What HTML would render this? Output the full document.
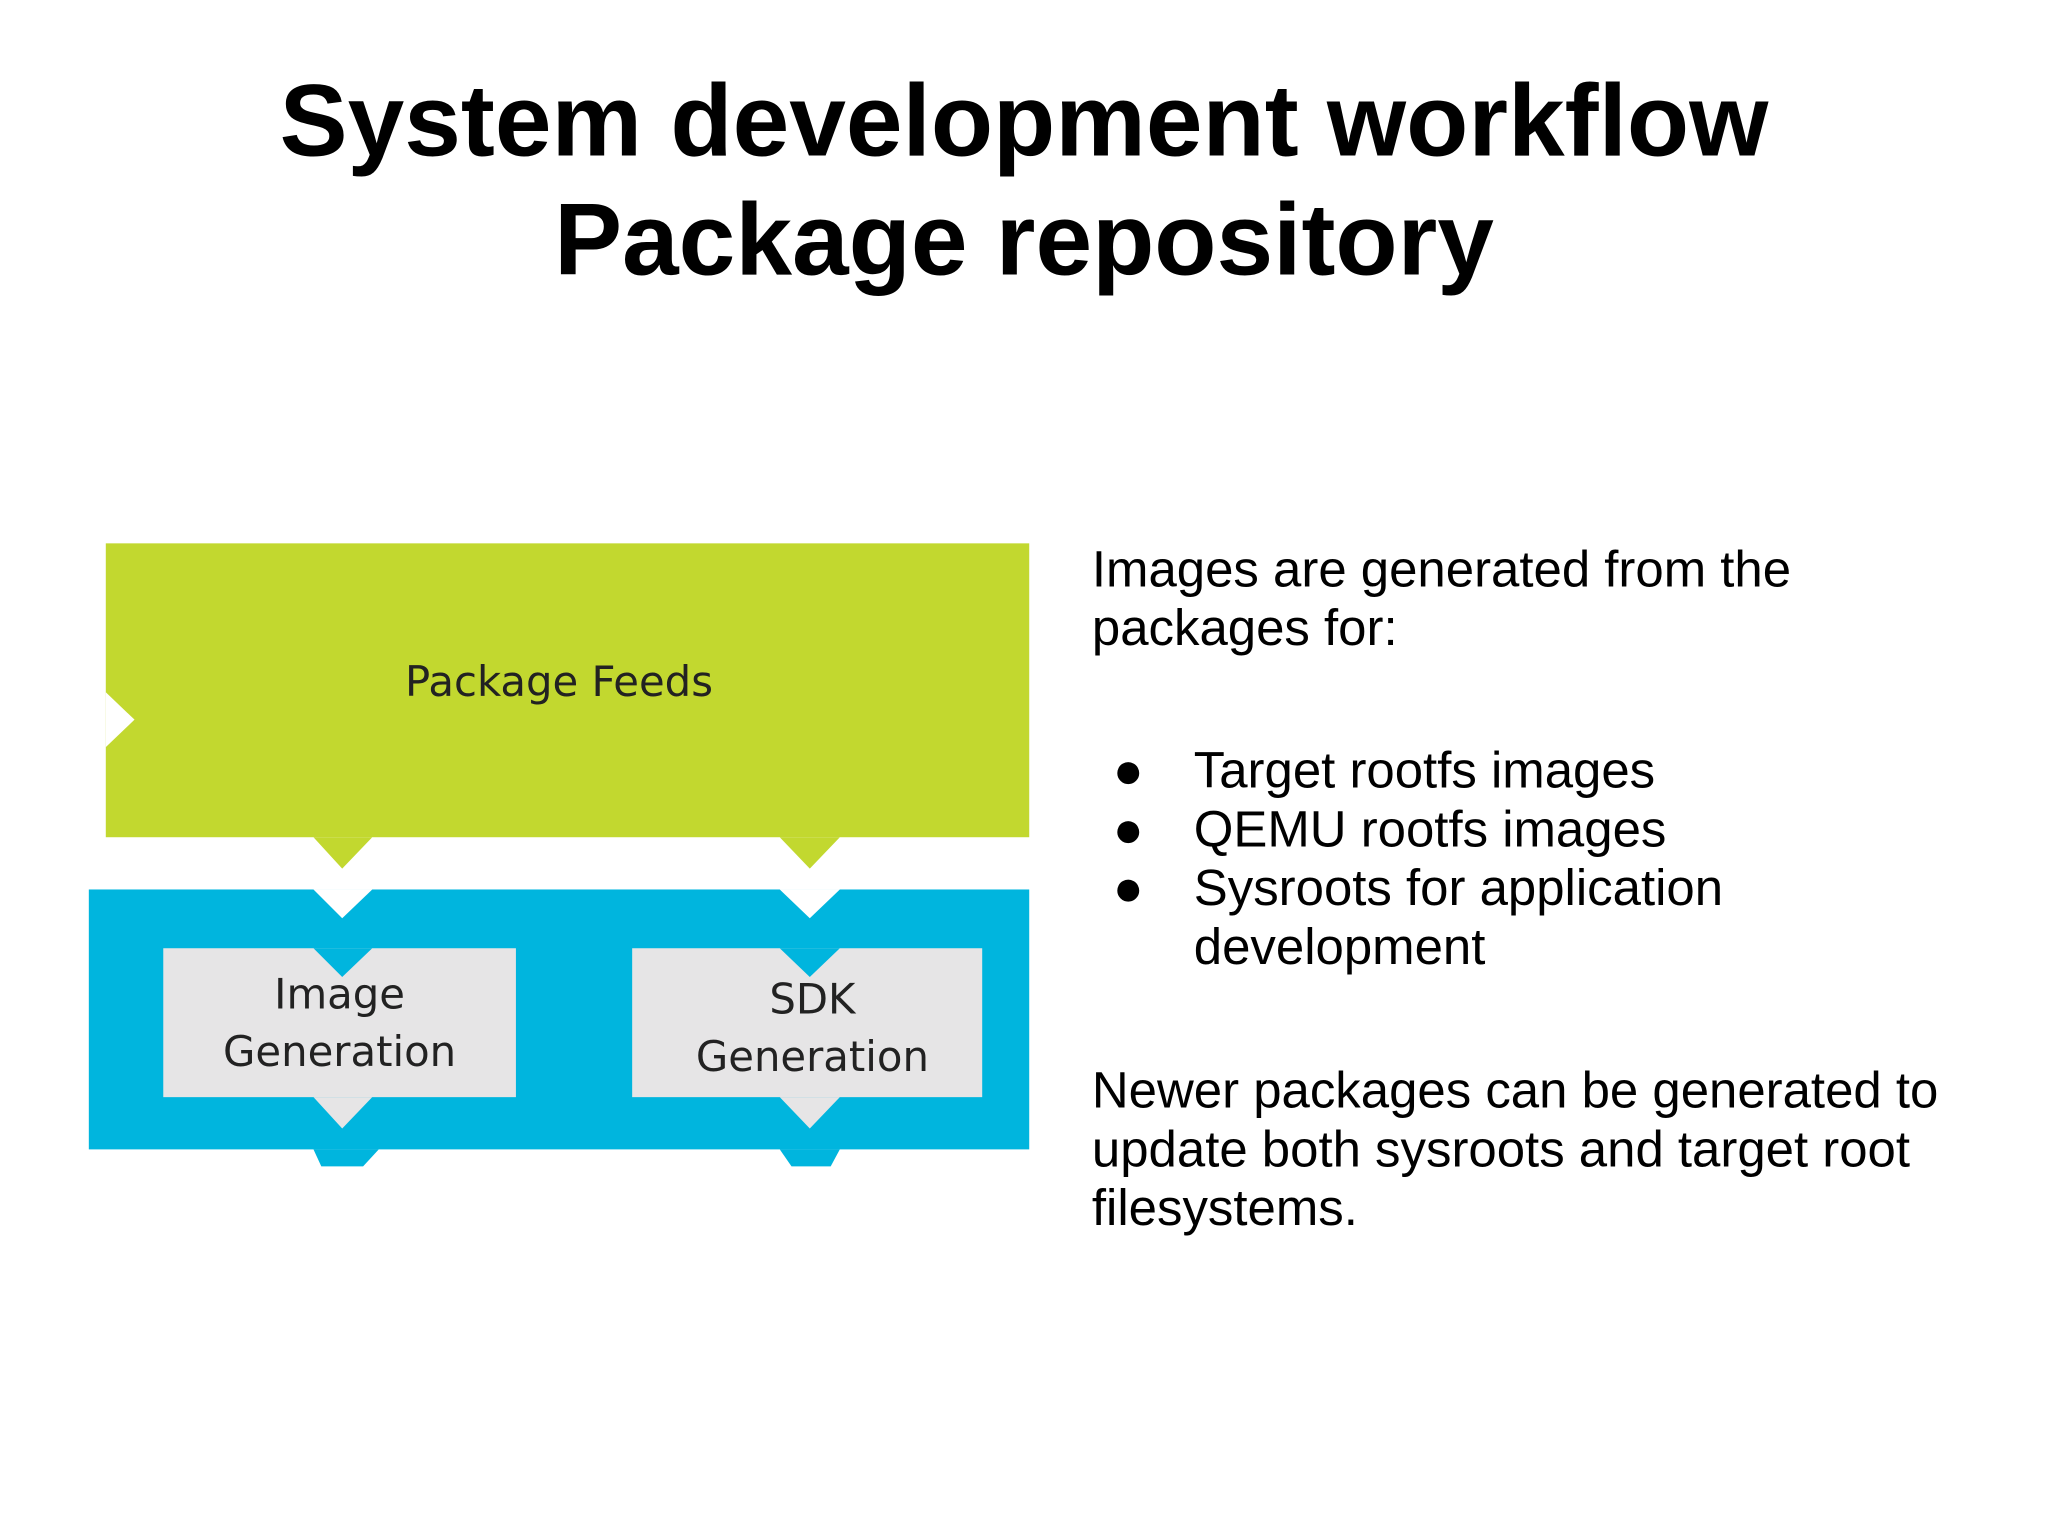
<!DOCTYPE html>
<html><head><meta charset="utf-8"><style>
html,body{margin:0;padding:0;background:#fff;}
svg{display:block;}
</style></head><body>
<svg width="2048" height="1536" viewBox="0 0 1568 1176" xmlns="http://www.w3.org/2000/svg">
<rect width="1568" height="1176" fill="#fff"/>
<g font-family="Liberation Sans, Arial, sans-serif" font-weight="bold" font-size="78" text-anchor="middle" fill="#000">
<text x="784" y="119">System development workflow</text>
<text x="784" y="210">Package repository</text>
</g>
<rect x="81" y="416" width="707" height="225" fill="#c2d82f"/>
<polygon points="81,530 103,551 81,572" fill="#fff"/>
<polygon points="240,641 285,641 262,665" fill="#c2d82f"/>
<polygon points="597,641 643,641 620,665" fill="#c2d82f"/>
<rect x="68" y="681" width="720" height="199" fill="#00b5de"/>
<polygon points="240,681 285,681 262,703" fill="#fff"/>
<polygon points="597,681 643,681 620,703" fill="#fff"/>
<polygon points="240,880 290,880 278,893 246,893" fill="#00b5de"/>
<polygon points="597,880 643,880 636,893 606,893" fill="#00b5de"/>
<rect x="125" y="726" width="270" height="114" fill="#e6e5e6"/>
<polygon points="240,726 285,726 262,748" fill="#00b5de"/>
<polygon points="240,840 285,840 262,864" fill="#e6e5e6"/>
<rect x="484" y="726" width="268" height="114" fill="#e6e5e6"/>
<polygon points="597,726 643,726 620,748" fill="#00b5de"/>
<polygon points="597,840 643,840 620,864" fill="#e6e5e6"/>
<g font-family="DejaVu Sans, sans-serif" font-size="32" text-anchor="middle" fill="#222">
<text x="428" y="533">Package Feeds</text>
<text x="260" y="772">Image</text>
<text x="260" y="816">Generation</text>
<text x="622" y="776">SDK</text>
<text x="622" y="820">Generation</text>
</g>
<g font-family="Liberation Sans, Arial, sans-serif" font-size="39" fill="#000">
<text x="836" y="449">Images are generated from the</text>
<text x="836" y="494">packages for:</text>
<text x="852" y="603">●</text><text x="914" y="603">Target rootfs images</text>
<text x="852" y="648">●</text><text x="914" y="648">QEMU rootfs images</text>
<text x="852" y="693">●</text><text x="914" y="693">Sysroots for application</text>
<text x="914" y="738">development</text>
<text x="836" y="848">Newer packages can be generated to</text>
<text x="836" y="893">update both sysroots and target root</text>
<text x="836" y="938">filesystems.</text>
</g>
</svg>
</body></html>
